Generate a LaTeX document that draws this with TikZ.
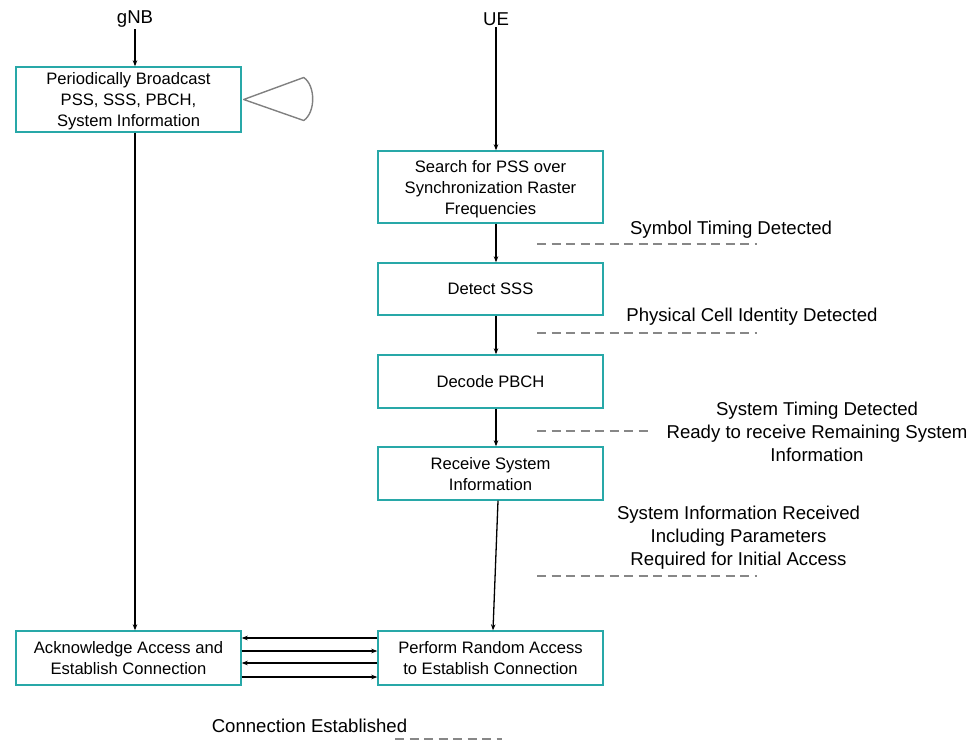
\documentclass[tikz,border=0pt]{standalone}
\usepackage{fontspec}
\setmainfont{Liberation Sans}
\usetikzlibrary{arrows.meta}
\definecolor{boxteal}{RGB}{40,168,168}
\definecolor{markgray}{RGB}{135,135,135}
\definecolor{loopgray}{RGB}{128,128,128}
\begin{document}
\begin{tikzpicture}[x=1pt,y=-1pt,
  stepbox/.style={draw=boxteal,line width=1.4pt,rectangle,minimum width=225pt,
    align=center,inner sep=0pt,text depth=-5pt,font=\fontsize{16.6}{21}\selectfont},
  actor/.style={font=\fontsize{18.6}{23}\selectfont,inner sep=1pt},
  note/.style={font=\fontsize{18.6}{23}\selectfont,align=center,inner sep=0pt},
  flow/.style={line width=1.3pt,-{Stealth[length=6pt,width=4.5pt]}},
  marker/.style={draw=markgray,line width=2pt,dash pattern=on 9pt off 5.5pt}]
\useasboundingbox (0,0) rectangle (976,739);

% lifeline heads
\node[actor] (gnb) at (135,19.5) {gNB};
\node[actor] (ue)  at (496,19.5) {UE};

% gNB side
\node[stepbox,minimum height=65pt] (bcast) at (128.5,99.5)
  {Periodically Broadcast\\PSS, SSS, PBCH,\\System Information};
\node[stepbox,minimum height=54pt] (ack) at (128.5,658)
  {Acknowledge Access and\\Establish Connection};

% UE side
\node[stepbox,minimum height=72pt] (search) at (490.5,187)
  {Search for PSS over\\Synchronization Raster\\Frequencies};
\node[stepbox,minimum height=52pt] (sss) at (490.5,289) {Detect SSS};
\node[stepbox,minimum height=53pt] (pbch) at (490.5,381.5) {Decode PBCH};
\node[stepbox,minimum height=53pt] (sib) at (490.5,473.5)
  {Receive System\\Information};
\node[stepbox,minimum height=54pt] (rach) at (490.5,658)
  {Perform Random Access\\to Establish Connection};

% periodic broadcast loop symbol
\coordinate (loopapex) at ([xshift=2pt]bcast.east);
\draw[loopgray,line width=1.4pt,line join=round]
  (loopapex) -- ++(60,-22) .. controls ++(12,8) and ++(12,-8) .. ++(0,43) -- cycle;

% gNB flow
\draw[flow] (gnb.south) -- (gnb.south |- bcast.north);
\draw[flow] (bcast.south -| gnb.south) -- (ack.north -| gnb.south);

% UE flow
\draw[flow] (ue.south) -- (ue.south |- search.north);
\draw[flow] (search.south -| ue.south) -- (sss.north -| ue.south);
\draw[flow] (sss.south -| ue.south) -- (pbch.north -| ue.south);
\draw[flow] (pbch.south -| ue.south) -- (sib.north -| ue.south);
\draw[flow] ([xshift=2pt]sib.south -| ue.south) -- ([xshift=-3pt]rach.north -| ue.south);

% random access exchange
\draw[flow] (rach.west |- 0,638) -- (ack.east |- 0,638);
\draw[flow] (ack.east |- 0,651) -- (rach.west |- 0,651);
\draw[flow] (rach.west |- 0,663) -- (ack.east |- 0,663);
\draw[flow] (ack.east |- 0,677) -- (rach.west |- 0,677);

% state annotations
\node[note] (n1) at (731,229.5) {Symbol Timing Detected};
\draw[marker] (537,244) -- (757,244);

\node[note] (n2) at (752,316.5) {Physical Cell Identity Detected};
\draw[marker] (537,333) -- (757,333);

\node[note] (n3) at (817,431.5)
  {System Timing Detected\\Ready to receive Remaining System\\Information};
\draw[marker,line width=1.6pt] (537,431) -- (650,431);

\node[note] (n4) at (738.5,538)
  {System Information Received\\Including Parameters\\Required for Initial Access};
\draw[marker,line width=1.6pt] (537,576) -- (757,576);

\node[note] (n5) at (309.5,726) {Connection Established};
\draw[marker,line width=1.6pt] (395,739) -- (502,739);
\end{tikzpicture}
\end{document}
